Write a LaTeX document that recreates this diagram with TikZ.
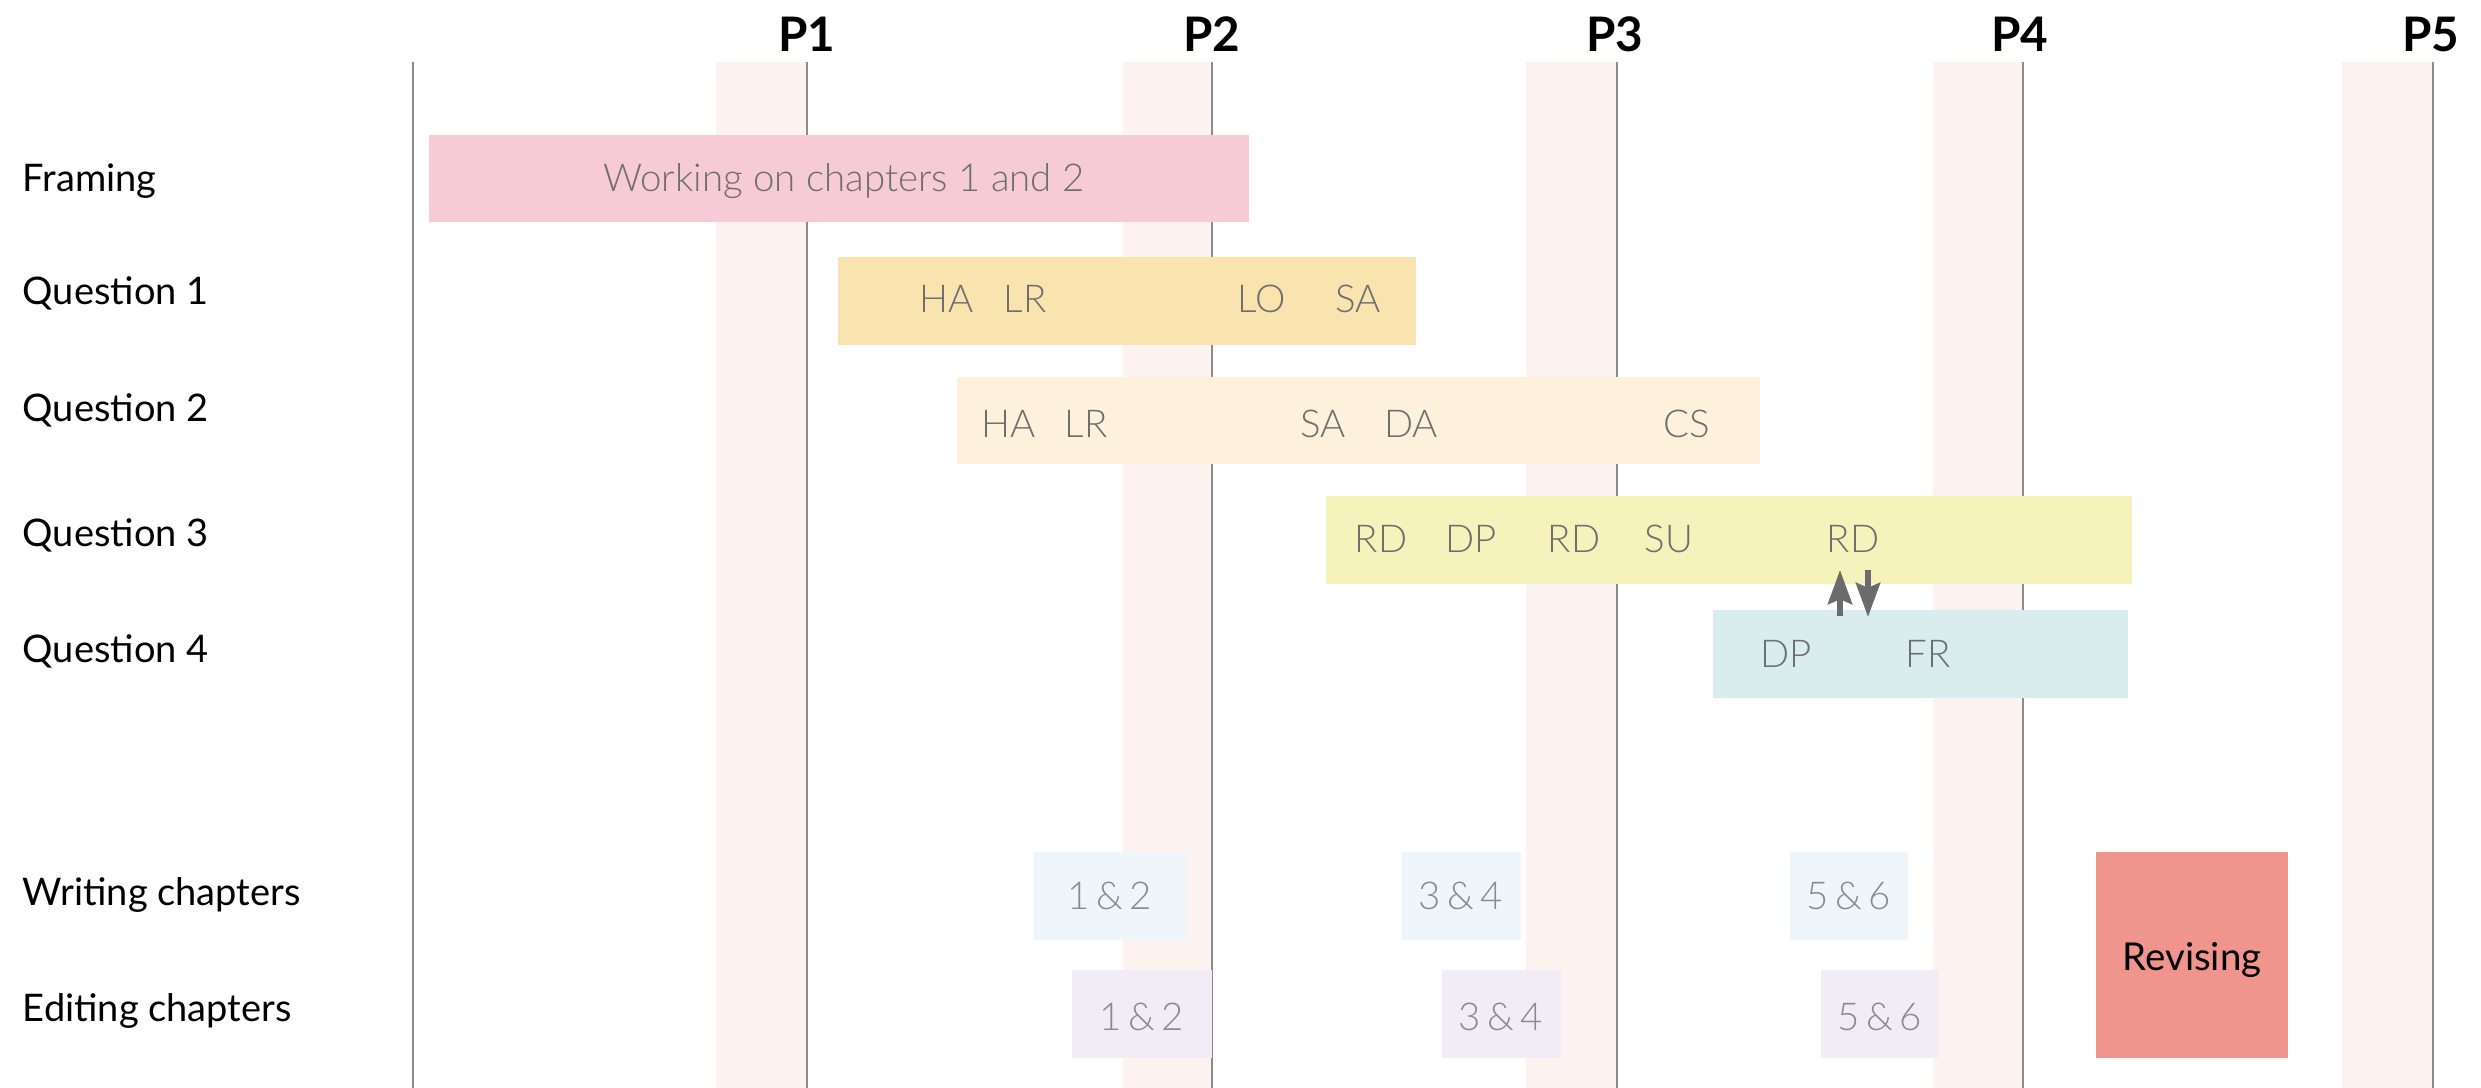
\documentclass[tikz,border=0pt]{standalone}
\usepackage{fontspec}
\setmainfont{Lato}
\IfFontExistsTF{Lato Light}{\newfontfamily\lightfont{Lato Light}}{\newfontfamily\lightfont{Lato}}
\usetikzlibrary{arrows.meta}
\definecolor{bandc}{HTML}{FCF3F1}
\definecolor{linec}{HTML}{8C8C8C}
\definecolor{framec}{HTML}{F7CBD6}
\definecolor{qonec}{HTML}{F9E4AF}
\definecolor{qtwoc}{HTML}{FDF1DC}
\definecolor{qthreec}{HTML}{F5F3BB}
\definecolor{qfourc}{HTML}{DAEDEE}
\definecolor{writec}{HTML}{EEF5FB}
\definecolor{editc}{HTML}{F1ECF6}
\definecolor{revc}{HTML}{F0958D}
\definecolor{intext}{HTML}{6E6E6E}
\definecolor{arrowc}{HTML}{6B6B6B}
\newcommand\gbar[6]{\node[barbox, fill=#6, minimum width={(#4-#2)*0.25pt}, minimum height={(#5-#3)*0.25pt}] (#1) at ({(#2+#4)/2},{(#3+#5)/2}) {};}
\newcommand\gband[2]{\fill[bandc] (#1,62) rectangle (#2,1088);}
\begin{document}
\begin{tikzpicture}[x=0.25pt,y=-0.25pt,
  barbox/.style={draw=none, inner sep=0pt, outer sep=0pt, rectangle},
  plabel/.style={font=\fontsize{11.9}{12}\selectfont\bfseries, text=black, anchor=base, inner sep=0pt},
  rowlab/.style={font=\fontsize{9.5}{10}\selectfont, text=black, anchor=base west, inner sep=0pt},
  intxt/.style={font=\fontsize{9.6}{10}\selectfont\lightfont, text=intext, anchor=base, inner sep=0pt},
  chtxt/.style={font=\fontsize{9.6}{10}\selectfont\lightfont, text=intext!80, anchor=base, inner sep=0pt},
  vline/.style={draw=linec, line width=0.45pt},
  twoway/.style={draw=arrowc, line width=1.6pt, -{Stealth[length=8.5pt,width=6pt,inset=1.2pt]}}
]
\useasboundingbox (0,0) rectangle (2481,1088);
% period bands
\gband{716}{807}
\gband{1123}{1212}
\gband{1526}{1617}
\gband{1933}{2023}
\gband{2342}{2434}
% period lines
\coordinate (l0t) at (413,62);  \coordinate (l0b) at (413,1088);
\coordinate (l1t) at (807,62);  \coordinate (l1b) at (807,1088);
\coordinate (l2t) at (1212,62); \coordinate (l2b) at (1212,1088);
\coordinate (l3t) at (1617,62); \coordinate (l3b) at (1617,1088);
\coordinate (l4t) at (2023,62); \coordinate (l4b) at (2023,1088);
\coordinate (l5t) at (2433,62); \coordinate (l5b) at (2433,1088);
\draw[vline] (l0t) -- (l0b);
\draw[vline] (l1t) -- (l1b);
\draw[vline] (l2t) -- (l2b);
\draw[vline] (l3t) -- (l3b);
\draw[vline] (l4t) -- (l4b);
\draw[vline] (l5t) -- (l5b);
% period labels
\node[plabel] (p1) at (807,52) {P1};
\node[plabel] (p2) at (1212,52) {P2};
\node[plabel] (p3) at (1615,52) {P3};
\node[plabel] (p4) at (2020,52) {P4};
\node[plabel] (p5) at (2431,52) {P5};
% row labels
\node[rowlab] (lfr) at (22,192) {Framing};
\node[rowlab] (lq1) at (22,305) {Question 1};
\node[rowlab] (lq2) at (22,422) {Question 2};
\node[rowlab] (lq3) at (22,547) {Question 3};
\node[rowlab] (lq4) at (22,663) {Question 4};
\node[rowlab] (lwr) at (22,905) {Writing chapters};
\node[rowlab] (led) at (22,1021) {Editing chapters};
% bars
\gbar{bfr}{429}{135}{1249}{222}{framec}
\gbar{bq1}{838}{257}{1416}{345}{qonec}
\gbar{bq2}{957}{377}{1760}{464}{qtwoc}
\gbar{bq3}{1326}{496}{2132}{584}{qthreec}
\gbar{bq4}{1713}{610}{2128}{698}{qfourc}
\gbar{bw1}{1034}{852}{1187}{940}{writec}
\gbar{bw2}{1402}{852}{1521}{940}{writec}
\gbar{bw3}{1790}{852}{1908}{940}{writec}
\gbar{be1}{1072}{970}{1212}{1058}{editc}
\gbar{be2}{1442}{970}{1561}{1058}{editc}
\gbar{be3}{1821}{970}{1939}{1058}{editc}
\gbar{brev}{2096}{852}{2288}{1058}{revc}
% bar texts
\node[intxt] (tfr) at (844,192) {Working on chapters 1 and 2};
\node[intxt] (q1a) at (947,313) {HA};
\node[intxt] (q1b) at (1025,313) {LR};
\node[intxt] (q1c) at (1262,313) {LO};
\node[intxt] (q1d) at (1358,313) {SA};
\node[intxt] (q2a) at (1009,438) {HA};
\node[intxt] (q2b) at (1086,438) {LR};
\node[intxt] (q2c) at (1323,438) {SA};
\node[intxt] (q2d) at (1411,438) {DA};
\node[intxt] (q2e) at (1687,438) {CS};
\node[intxt] (q3a) at (1381,553) {RD};
\node[intxt] (q3b) at (1471,553) {DP};
\node[intxt] (q3c) at (1574,553) {RD};
\node[intxt] (q3d) at (1669,553) {SU};
\node[intxt] (q3e) at (1853,553) {RD};
\node[intxt] (q4a) at (1786,668) {DP};
\node[intxt] (q4b) at (1928,668) {FR};
\node[chtxt] (w1) at (1110,910) {1\,\&\,2};
\node[chtxt] (w2) at (1461,910) {3\,\&\,4};
\node[chtxt] (w3) at (1849,910) {5\,\&\,6};
\node[chtxt] (e1) at (1142,1030) {1\,\&\,2};
\node[chtxt] (e2) at (1501,1030) {3\,\&\,4};
\node[chtxt] (e3) at (1880,1030) {5\,\&\,6};
\node[font=\fontsize{9.6}{10}\selectfont, text=black, anchor=base, inner sep=0pt] (trev) at (brev.center |- 0,970) {Revising};
% two-way arrows between question 3 and question 4
\coordinate (upfrom) at (1840,616);
\coordinate (upto) at (1840,570);
\coordinate (dnfrom) at (1868,570);
\coordinate (dnto) at (1868,617);
\draw[twoway] (upfrom) -- (upto);
\draw[twoway] (dnfrom) -- (dnto);
\end{tikzpicture}
\end{document}
